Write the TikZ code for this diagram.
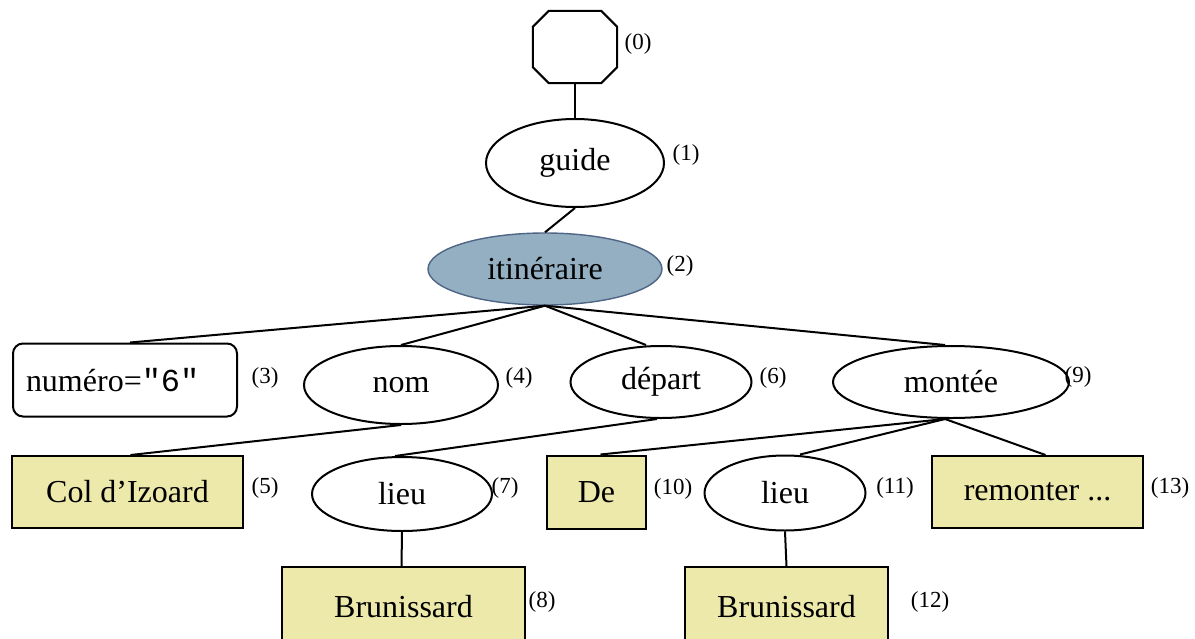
\documentclass[tikz,border=0pt]{standalone}
\usepackage{fontspec}
\setmainfont{Liberation Serif}
\setmonofont{Liberation Mono}
\usetikzlibrary{shapes.geometric,calc}
\definecolor{boxyellow}{HTML}{EDE9AB}
\definecolor{itfill}{HTML}{93AFC1}
\definecolor{itdraw}{HTML}{4F6585}
\begin{document}
\begin{tikzpicture}[x=1pt,y=-1pt,
  main/.style={font=\fontsize{32}{36}\selectfont, line width=2pt},
  ell/.style={main, draw, ellipse, inner sep=0pt},
  ybox/.style={main, draw, fill=boxyellow, rectangle, inner sep=0pt},
  num/.style={font=\fontsize{23}{26}\selectfont, inner sep=0pt},
  edge/.style={line width=2pt}]
\useasboundingbox (0,0) rectangle (1195,638);
\clip (0,0) rectangle (1195,638);
% nodes
\node[rectangle, minimum width=84pt, minimum height=72pt, inner sep=0pt] (n0) at (575,47) {};
\draw[line width=2pt, line join=miter]
  ($(n0.north west)+(16,0)$) -- ($(n0.north east)+(-16,0)$) -- ($(n0.north east)+(0,16)$)
  -- ($(n0.south east)+(0,-16)$) -- ($(n0.south east)+(-16,0)$) -- ($(n0.south west)+(16,0)$)
  -- ($(n0.south west)+(0,-16)$) -- ($(n0.north west)+(0,16)$) -- cycle;
\node[ell, minimum width=178pt, minimum height=88pt] (n1) at (575,163) {guide};
\node[ell, draw=itdraw, fill=itfill, line width=1.4pt, minimum width=234pt, minimum height=72pt] (n2) at (545,269) {itinéraire};
\node[main, draw, rounded corners=10pt, minimum height=73pt, text width=198pt, align=left, inner xsep=13pt, inner ysep=0pt] (n3) at (125,380) {numéro=\texttt{"6"}};
\node[ell, minimum width=194pt, minimum height=78pt] (n4) at (401,385) {nom};
\node[ell, minimum width=181pt, minimum height=72pt] (n6) at (661,382) {départ};
\node[ell, minimum width=236pt, minimum height=72pt] (n9) at (951,382) {montée};
\node[ybox, minimum width=231pt, minimum height=72pt] (n5) at (127.5,492) {Col d’Izoard};
\node[ell, minimum width=180pt, minimum height=74pt] (n7) at (402,494) {lieu};
\node[ybox, minimum width=99pt, minimum height=73pt] (n10) at (596.5,492) {De};
\node[ell, minimum width=161pt, minimum height=75pt] (n11) at (785,493) {lieu};
\node[ybox, minimum width=211pt, minimum height=72pt] (n13) at (1037.5,492) {remonter ...};
\node[ybox, minimum width=243pt, minimum height=80pt] (n8) at (403.5,607) {Brunissard};
\node[ybox, minimum width=203pt, minimum height=80pt] (n12) at (786.5,607) {Brunissard};
% number labels
\node[num] (l0) at (638,44) {(0)};
\node[num] (l1) at (686,155) {(1)};
\node[num] (l2) at (680,266) {(2)};
\node[num] (l3) at (265,378) {(3)};
\node[num] (l4) at (519,378) {(4)};
\node[num] (l6) at (773,378) {(6)};
\node[num] (l9) at (1078,377) {(9)};
\node[num] (l5) at (265,488) {(5)};
\node[num] (l7) at (505,488) {(7)};
\node[num] (l10) at (673,489) {(10)};
\node[num] (l11) at (895,488) {(11)};
\node[num] (l13) at (1170,488) {(13)};
\node[num] (l8) at (542,602) {(8)};
\node[num] (l12) at (930,602) {(12)};
% connectors
\draw[edge] (n0.south) -- (n1.north);
\draw[edge] (n1.south) -- (n2.north);
\draw[edge] (n2.south) -- ([xshift=5pt]n3.north);
\draw[edge] (n2.south) -- (n4.north);
\draw[edge] (n2.south) -- ([xshift=-15pt]n6.north);
\draw[edge] (n2.south) -- ([xshift=-6pt]n9.north);
\draw[edge] (n4.south) -- ([xshift=3pt]n5.north);
\draw[edge] ([xshift=-4pt]n6.south) -- ([xshift=-7pt]n7.north);
\draw[edge] ([xshift=-6pt]n9.south) -- ([xshift=4pt]n10.north);
\draw[edge] ([xshift=-6pt]n9.south) -- ([xshift=15pt]n11.north);
\draw[edge] ([xshift=-6pt]n9.south) -- ([xshift=8pt]n13.north);
\draw[edge] (n7.south) -- ([xshift=-2pt]n8.north);
\draw[edge] (n11.south) -- (n12.north);
\end{tikzpicture}
\end{document}
